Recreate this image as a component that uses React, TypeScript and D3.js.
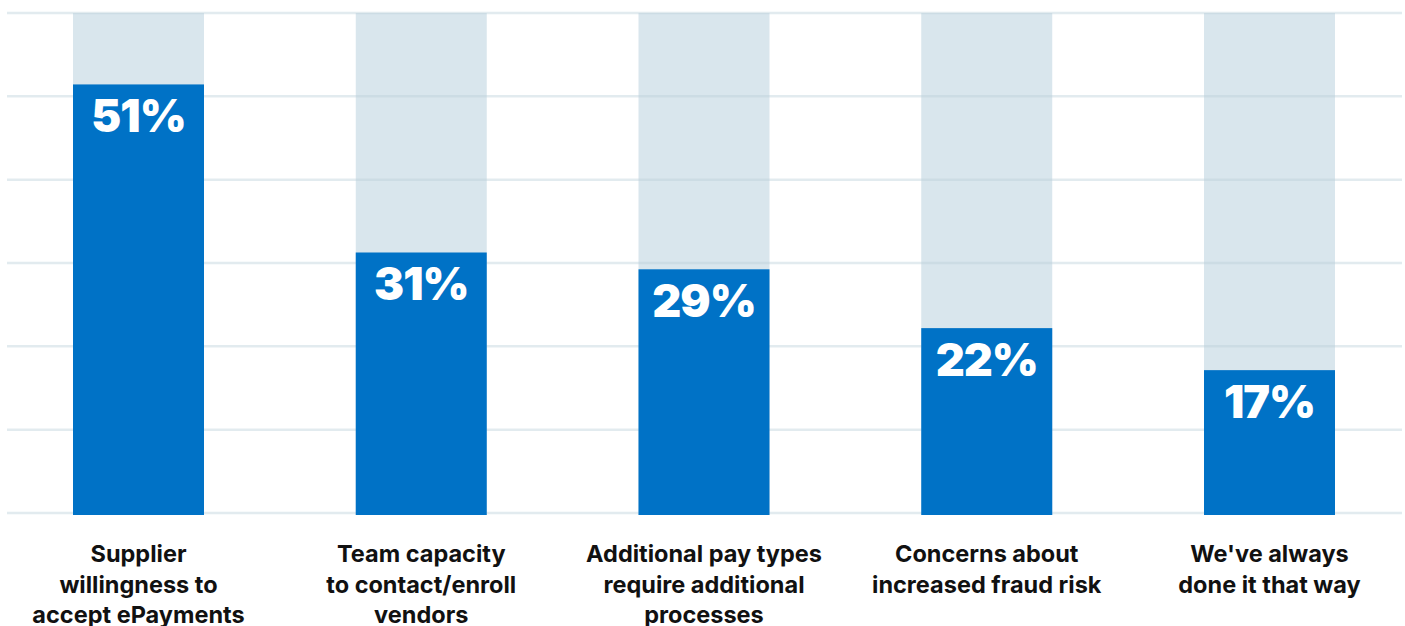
import React from "react";
import * as d3 from "d3";

const categories = [
  "Supplier willingness to accept ePayments",
  "Team capacity to contact/enroll vendors",
  "Additional pay types require additional processes",
  "Concerns about increased fraud risk",
  "We've always done it that way",
];
const categoryLines = [
  ["Supplier", "willingness to", "accept ePayments"],
  ["Team capacity", "to contact/enroll", "vendors"],
  ["Additional pay types", "require additional", "processes"],
  ["Concerns about", "increased fraud risk"],
  ["We've always", "done it that way"],
];
const values = [51, 31, 29, 22, 17];
const valueLabels = ["51%", "31%", "29%", "22%", "17%"];
const yMax = 59.5;
const gridCount = 6;

const W = 1405;
const H = 626;

export default function App() {
  const y = d3.scaleLinear().domain([0, yMax]).range([513, 13]);
  const x = d3.scalePoint<string>().domain(categories).range([138.5, 1269.5]);
  const bw = 131;
  const grid = d3.range(gridCount + 1).map((i) => (yMax * i) / gridCount);
  const base = y(0) + 2;

  return (
    <svg
      width={W}
      height={H}
      style={{ position: "absolute", left: 0, top: 0, display: "block", background: "#fff" }}
    >
      {categories.map((c) => (
        <rect key={"bg" + c} x={x(c)! - bw / 2} y={y(yMax)} width={bw} height={base - y(yMax)} fill="#d9e6ed" />
      ))}
      {grid.map((g) => (
        <line key={"g" + g} x1={7} x2={1402} y1={y(g)} y2={y(g)} stroke="#b9cfd8" strokeOpacity={0.42} strokeWidth={2.5} />
      ))}
      {categories.map((c, i) => (
        <rect key={"b" + c} x={x(c)! - bw / 2} y={y(values[i])} width={bw} height={base - y(values[i])} fill="#0072c6" />
      ))}
      {categories.map((c, i) => (
        <text
          key={"v" + c}
          x={x(c)!}
          y={y(values[i]) + 48}
          textAnchor="middle"
          fill="#fff"
          fontFamily="Inter, 'Noto Sans', sans-serif"
          fontWeight={900}
          fontSize={45}
          letterSpacing={-1}
        >
          {valueLabels[i]}
        </text>
      ))}
      {categories.map((c, i) => (
        <text
          key={"l" + c}
          textAnchor="middle"
          fill="#111"
          fontFamily="Inter, 'Noto Sans', sans-serif"
          fontWeight={700}
          fontSize={23.5}
        >
          {categoryLines[i].map((ln, j) => (
            <tspan key={j} x={x(c)!} y={562 + j * 30.5}>
              {ln}
            </tspan>
          ))}
        </text>
      ))}
    </svg>
  );
}
